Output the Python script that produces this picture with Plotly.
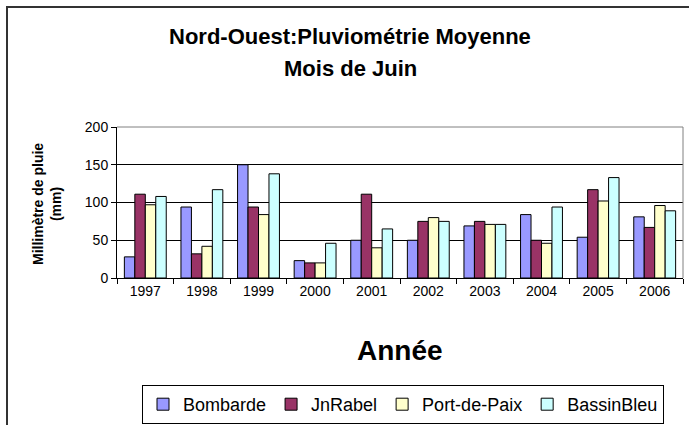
import plotly.graph_objects as go

years = ["1997", "1998", "1999", "2000", "2001", "2002", "2003", "2004", "2005", "2006"]
bombarde = [28, 94, 150, 23, 50, 50, 69, 84, 54, 81]
jnrabel = [111, 32, 94, 20, 111, 75, 75, 50, 117, 67]
port_de_paix = [97, 42, 84, 20, 40, 80, 71, 46, 102, 96]
bassin_bleu = [108, 117, 138, 46, 65, 75, 71, 94, 133, 89]

series = [
    ("Bombarde", bombarde, "#9999FF"),
    ("JnRabel", jnrabel, "#993366"),
    ("Port-de-Paix", port_de_paix, "#FFFFCC"),
    ("BassinBleu", bassin_bleu, "#CCFFFF"),
]

FONT = "Arial, Liberation Sans, sans-serif"

fig = go.Figure()
for name, vals, col in series:
    fig.add_trace(go.Bar(
        x=years, y=vals, name=name,
        marker=dict(color=col, line=dict(color="#000000", width=1)),
    ))

L, R, T, B = 117, 6, 127, 147
W, H = 689, 425
pw = W - L - R
ph = H - T - B

def px_x(p):
    return (p - L) / pw

def px_y(p):
    return (H - B - p) / ph

fig.update_layout(
    width=W, height=H,
    margin=dict(l=L, r=R, t=T, b=B, pad=0, autoexpand=False),
    paper_bgcolor="white", plot_bgcolor="white",
    barmode="group", bargap=0.26, bargroupgap=0,
    font=dict(family=FONT, color="black", size=14),
    showlegend=True,
    legend=dict(
        orientation="h", x=px_x(664), y=px_y(385), xanchor="right", yanchor="top",
        bordercolor="black", borderwidth=1, bgcolor="white",
        font=dict(family=FONT, size=18, color="black"),
        itemwidth=30, tracegroupgap=0,
    ),
    xaxis=dict(
        type="category", tickson="boundaries", ticks="outside", ticklen=5,
        tickcolor="black", showline=True, linecolor="black", linewidth=1,
        showgrid=False, mirror=False, tickfont=dict(size=14, family=FONT),
    ),
    yaxis=dict(
        range=[0, 200], tickvals=[0, 50, 100, 150, 200], ticks="outside", ticklen=5,
        tickcolor="black", showline=True, linecolor="black", linewidth=1,
        showgrid=True, gridcolor="black", gridwidth=1, zeroline=False,
        tickfont=dict(size=14, family=FONT),
    ),
    shapes=[
        dict(type="line", xref="paper", yref="paper", x0=0, x1=1, y0=1, y1=1,
             line=dict(color="#808080", width=1)),
        dict(type="line", xref="paper", yref="paper", x0=1, x1=1, y0=0, y1=1,
             line=dict(color="#808080", width=1)),
        dict(type="rect", xref="paper", yref="paper",
             x0=px_x(7), x1=px_x(720), y0=px_y(7), y1=px_y(460),
             line=dict(color="#333333", width=2), layer="above"),
    ],
    annotations=[
        dict(text="<b>Nord-Ouest:Pluviométrie Moyenne</b>", xref="paper", yref="paper",
             x=px_x(350), y=px_y(36), xanchor="center", yanchor="middle", showarrow=False,
             font=dict(family=FONT, size=22, color="black")),
        dict(text="<b>Mois de Juin</b>", xref="paper", yref="paper",
             x=px_x(350), y=px_y(68), xanchor="center", yanchor="middle", showarrow=False,
             font=dict(family=FONT, size=22, color="black")),
        dict(text="<b>Millimètre de pluie<br>(mm)</b>", xref="paper", yref="paper",
             x=px_x(47), y=px_y(204), xanchor="center", yanchor="middle", showarrow=False,
             textangle=-90, font=dict(family=FONT, size=14, color="black")),
        dict(text="<b>Année</b>", xref="paper", yref="paper",
             x=px_x(400), y=px_y(350), xanchor="center", yanchor="middle", showarrow=False,
             font=dict(family=FONT, size=28, color="black")),
    ],
)

fig.write_html("out.html", config={"displayModeBar": False},
               post_script="document.body.style.margin='0';")
